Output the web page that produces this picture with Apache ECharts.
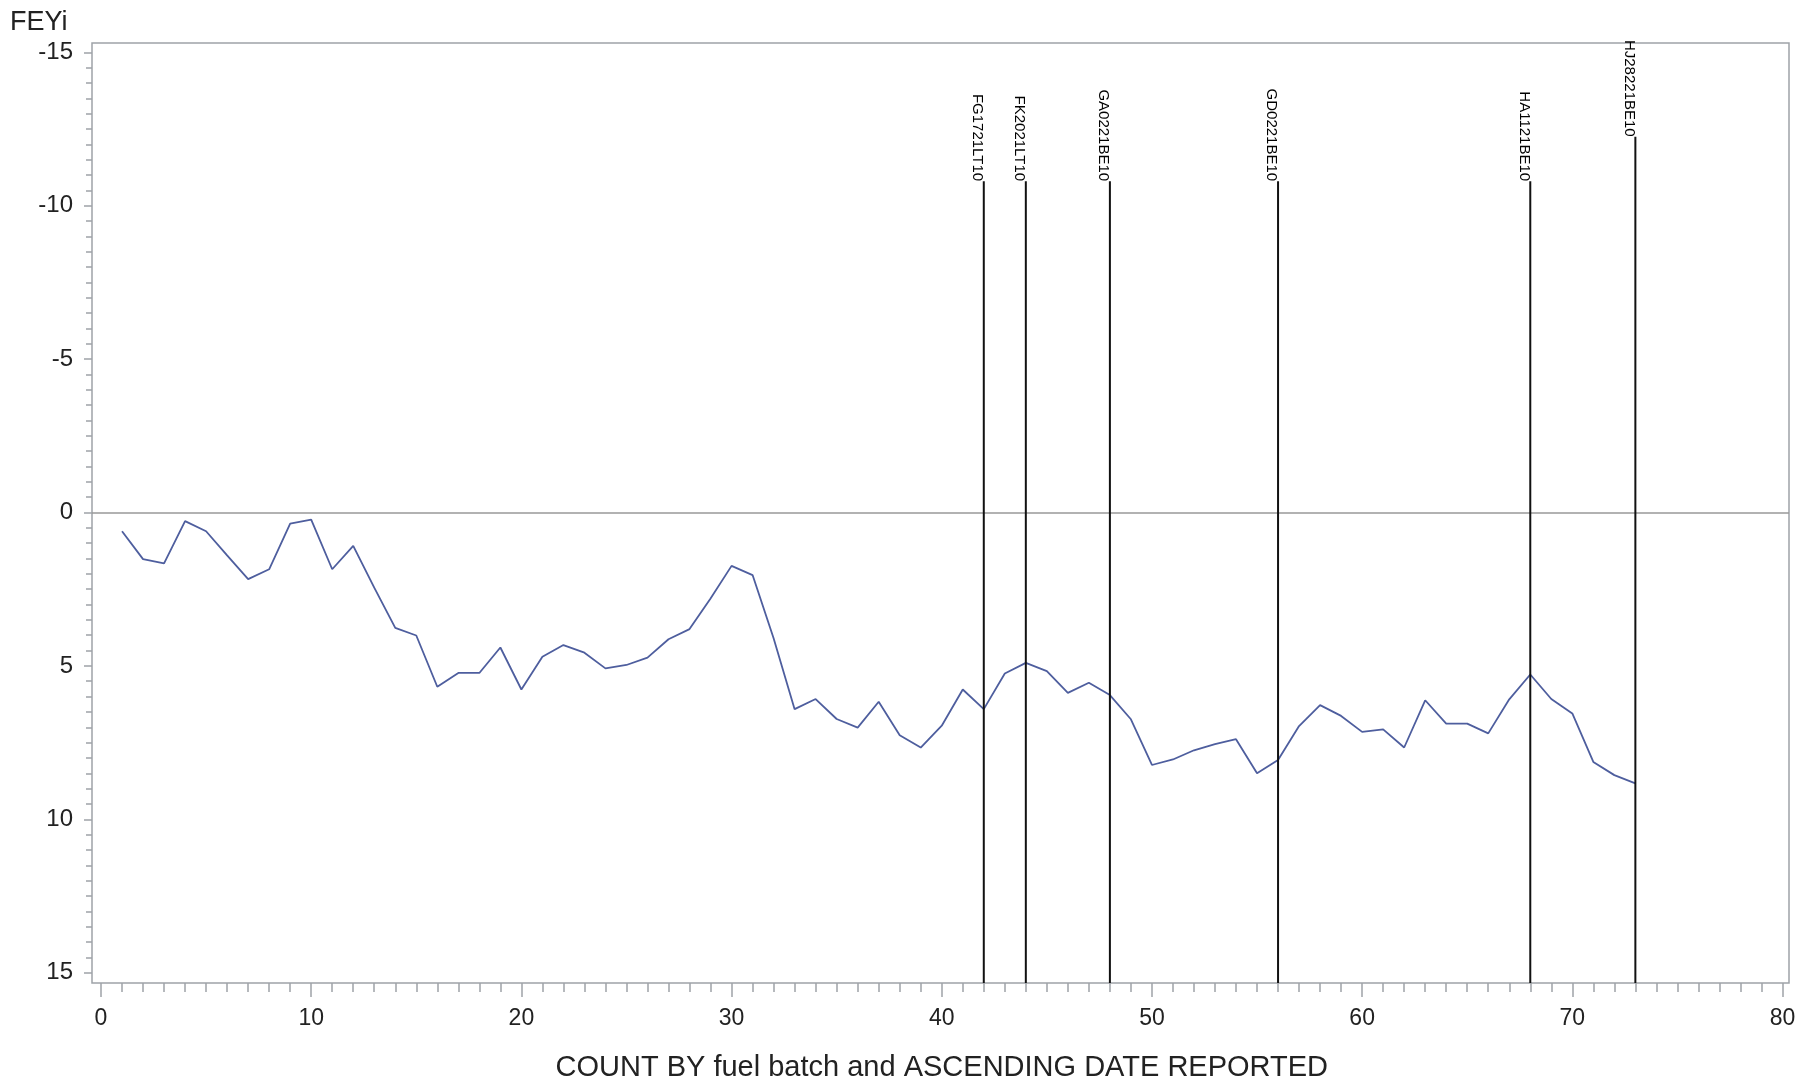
<!DOCTYPE html>
<html>
<head>
<meta charset="utf-8">
<title>FEYi by count</title>
<script src="https://cdn.jsdelivr.net/npm/echarts@6/dist/echarts.min.js"></script>
<style>
  html, body { margin: 0; padding: 0; background: #fff; }
  #chart { width: 1800px; height: 1083px; }
</style>
</head>
<body>
<div id="chart"></div>
<script>
// FEYi per report, ordered by fuel batch and ascending report date (count starts at 1)
const feyi = [
  0.61, 1.52, 1.66, 0.28, 0.61, 1.40, 2.17, 1.85, 0.36, 0.23,
  1.85, 1.09, 2.45, 3.76, 4.01, 5.68, 5.23, 5.23, 4.40, 5.77,
  4.70, 4.32, 4.57, 5.08, 4.97, 4.73, 4.13, 3.80, 2.80, 1.74,
  2.04, 4.10, 6.41, 6.08, 6.73, 7.01, 6.17, 7.26, 7.66, 6.95,
  5.77, 6.41, 5.25, 4.90, 5.17, 5.88, 5.55, 5.95, 6.74, 8.23,
  8.05, 7.75, 7.55, 7.39, 8.50, 8.07, 6.96, 6.28, 6.63, 7.15,
  7.07, 7.66, 6.12, 6.88, 6.88, 7.20, 6.09, 5.28, 6.08, 6.55,
  8.13, 8.56, 8.83
];

// Fuel batch changes: count where each batch starts, its label and needle top
const batchCounts = [42, 44, 48, 56, 68, 73];
const batchLabels = ['FG1721LT10', 'FK2021LT10', 'GA0221BE10', 'GD0221BE10', 'HA1121BE10', 'HJ28221BE10'];
const batchTops = [-10.8, -10.8, -10.8, -10.8, -10.8, -12.25];

// Axis ranges and tick steps
const xRange = [0, 80];
const xStep = 10;
const yRange = [-15, 15];
const yStep = 5;

// Layout (pixels): where the first/last ticks sit, and the plot frame around them
const PLOT = { left: 101, right: 1782.5, top: 52.3, bottom: 972.7 };
const FRAME = { left: 92, right: 1789, top: 43, bottom: 983 };

// Frame extents in data units, so the frame grid shares the tick scale
const pxPerX = (PLOT.right - PLOT.left) / (xRange[1] - xRange[0]);
const pxPerY = (PLOT.bottom - PLOT.top) / (yRange[1] - yRange[0]);
const frameX = [
  xRange[0] - (PLOT.left - FRAME.left) / pxPerX,
  xRange[1] + (FRAME.right - PLOT.right) / pxPerX
];
const frameY = [
  yRange[0] - (PLOT.top - FRAME.top) / pxPerY,
  yRange[1] + (FRAME.bottom - PLOT.bottom) / pxPerY
];

const FONT = '"Liberation Sans", Arial, Helvetica, sans-serif';
const TEXT = '#222';
const AXIS_GREY = '#9ea3a8';

const hiddenAxis = (gridIndex) => ({ gridIndex, type: 'value', min: 0, max: 1, show: false });

const chart = echarts.init(document.getElementById('chart'), null, { renderer: 'canvas' });

chart.setOption({
  animation: false,
  backgroundColor: '#fff',
  title: {
    text: 'FEYi',
    left: 10,
    top: 9,
    padding: 0,
    textStyle: { fontFamily: FONT, fontSize: 27, fontWeight: 'normal', color: TEXT }
  },
  grid: [
    {
      // plot frame, holds the data
      left: FRAME.left, width: FRAME.right - FRAME.left,
      top: FRAME.top, height: FRAME.bottom - FRAME.top,
      show: true, borderColor: AXIS_GREY, borderWidth: 1.5,
      backgroundColor: 'transparent',
      containLabel: false, outerBoundsMode: 'none'
    },
    {
      // horizontal axis: tick span across, frame bottom as its baseline
      left: PLOT.left, width: PLOT.right - PLOT.left,
      top: FRAME.top, height: FRAME.bottom - FRAME.top,
      show: false, containLabel: false, outerBoundsMode: 'none'
    },
    {
      // vertical axis: tick span down, frame left edge as its baseline
      left: FRAME.left, width: FRAME.right - FRAME.left,
      top: PLOT.top, height: PLOT.bottom - PLOT.top,
      show: false, containLabel: false, outerBoundsMode: 'none'
    }
  ],
  xAxis: [
    { gridIndex: 0, type: 'value', min: frameX[0], max: frameX[1], show: false },
    {
      gridIndex: 1, type: 'value', min: xRange[0], max: xRange[1], interval: xStep,
      position: 'bottom',
      axisLine: { show: false, onZero: false },
      axisTick: { show: true, inside: false, length: 14, lineStyle: { color: AXIS_GREY, width: 1.5 } },
      minorTick: { show: true, splitNumber: 10, length: 9, lineStyle: { color: AXIS_GREY, width: 1.5 } },
      splitLine: { show: false },
      axisLabel: { margin: 24, fontFamily: FONT, fontSize: 23, color: TEXT },
      name: 'COUNT BY fuel batch and ASCENDING DATE REPORTED',
      nameLocation: 'middle',
      nameGap: 85,
      nameTextStyle: { fontFamily: FONT, fontSize: 29, color: TEXT, verticalAlign: 'middle' }
    },
    hiddenAxis(2)
  ],
  yAxis: [
    { gridIndex: 0, type: 'value', min: frameY[0], max: frameY[1], inverse: true, show: false },
    hiddenAxis(1),
    {
      gridIndex: 2, type: 'value', min: yRange[0], max: yRange[1], interval: yStep, inverse: true,
      position: 'left',
      axisLine: { show: false, onZero: false },
      axisTick: { show: true, inside: false, length: 8, lineStyle: { color: AXIS_GREY, width: 1.5 } },
      minorTick: { show: true, splitNumber: 10, length: 6, lineStyle: { color: AXIS_GREY, width: 1.5 } },
      splitLine: { show: false },
      axisLabel: { margin: 19, fontFamily: FONT, fontSize: 24, color: TEXT }
    }
  ],
  series: [
    {
      name: 'FEYi',
      type: 'line',
      xAxisIndex: 0, yAxisIndex: 0,
      data: feyi.map((v, i) => [i + 1, v]),
      showSymbol: false,
      symbol: 'none',
      lineStyle: { color: '#4e5e9e', width: 1.8 },
      z: 2,
      markLine: {
        silent: true,
        symbol: 'none',
        label: { show: false },
        lineStyle: { color: '#999', type: 'solid', width: 1.5 },
        data: [{ yAxis: 0 }]
      }
    },
    {
      name: 'batch',
      type: 'custom',
      xAxisIndex: 0, yAxisIndex: 0,
      data: batchCounts.map((c, i) => [c, batchTops[i]]),
      z: 5,
      renderItem: function (params, api) {
        const x = api.value(0);
        const top = api.value(1);
        const base = api.coord([x, frameY[1]]);
        const tip = api.coord([x, top]);
        return {
          type: 'group',
          children: [
            {
              type: 'line',
              shape: { x1: base[0], y1: base[1], x2: tip[0], y2: tip[1] },
              style: { stroke: '#111', lineWidth: 2 }
            },
            {
              type: 'text',
              x: tip[0] + 1,
              y: tip[1],
              rotation: -Math.PI / 2,
              style: {
                text: batchLabels[params.dataIndex],
                fill: '#000',
                font: '15px ' + FONT,
                align: 'right',
                verticalAlign: 'top'
              }
            }
          ]
        };
      }
    }
  ]
});
</script>
</body>
</html>
